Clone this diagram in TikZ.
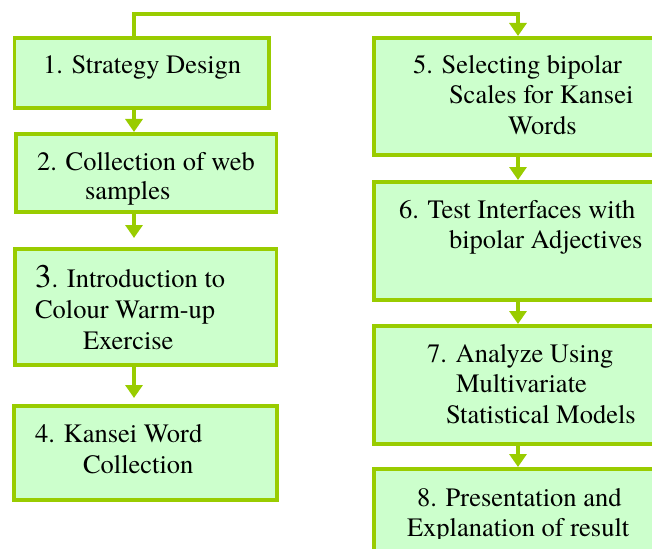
\documentclass[tikz,border=0pt]{standalone}
\usepackage{fontspec}
\setmainfont{texgyretermes}[Extension=.otf, UprightFont=*-regular, BoldFont=*-bold]
\usetikzlibrary{arrows.meta,calc}

\definecolor{stepedge}{RGB}{153,204,0}
\definecolor{stepfill}{RGB}{204,255,204}

\tikzset{
  stepbox/.style={draw=stepedge, fill=stepfill, line width=3.8pt,
    rectangle, inner sep=0pt, outer sep=0pt},
  flow/.style={draw=stepedge, line width=4.5pt,
    -{Triangle[width=17pt,length=13pt]}},
  txt/.style={anchor=base west, inner sep=0pt, outer sep=0pt,
    font=\fontsize{26.5}{31}\selectfont}
}

\begin{document}
\begin{tikzpicture}[x=1pt,y=-1pt]
  \useasboundingbox (0,0) rectangle (652,548);
  \clip (0,0) rectangle (652,548);

  % x positions of the two columns of arrows
  \coordinate (lx) at (134,0);
  \coordinate (rx) at (518,0);

  % left column
  \node[stepbox, minimum width=254.5pt, minimum height=70pt]  (b1) at (141.75,73) {};
  \node[stepbox, minimum width=260.5pt, minimum height=78pt]  (b2) at (146.25,173) {};
  \node[stepbox, minimum width=261.5pt, minimum height=116pt] (b3) at (145.75,307) {};
  \node[stepbox, minimum width=263pt,   minimum height=94pt]  (b4) at (145.5,453) {};

  % right column (runs past the right edge)
  \node[stepbox, minimum width=306pt, minimum height=117pt] (b5) at (527,96.5) {};
  \node[stepbox, minimum width=306pt, minimum height=118pt] (b6) at (527,241) {};
  \node[stepbox, minimum width=306pt, minimum height=118pt] (b7) at (527,385) {};
  \node[stepbox, minimum width=306pt, minimum height=131pt] (b8) at (527,534.5) {};

  % connectors
  \draw[flow] (b1.south -| lx) -- ($(b2.north -| lx)+(0,-2)$);
  \draw[flow] (b2.south -| lx) -- ($(b3.north -| lx)+(0,-11)$);
  \draw[flow] (b3.south -| lx) -- ($(b4.north -| lx)+(0,-8)$);
  \draw[flow] (b1.north -| lx) -- ++(0,-24) -| ($(b5.north -| rx)+(0,-2)$);
  \draw[flow] (b5.south -| rx) -- ($(b6.north -| rx)+(0,-2)$);
  \draw[flow] (b6.south -| rx) -- ($(b7.north -| rx)+(0,-2)$);
  \draw[flow] (b7.south -| rx) -- ($(b8.north -| rx)+(0,-2)$);

  % box texts
  \node[txt] (t1a) at (43,74)  {1. Strategy Design};

  \node[txt] (t2a) at (37,170) {2. Collection of web};
  \node[txt] (t2b) at (85,199) {samples};

  \node[txt] (t3a) at (35,287) {{\fontsize{33}{31}\selectfont 3}. Introduction to};
  \node[txt] (t3b) at (35,318) {Colour Warm-up};
  \node[txt] (t3c) at (83,349) {Exercise};

  \node[txt] (t4a) at (35,442) {4. Kansei Word};
  \node[txt] (t4b) at (83,473) {Collection};

  \node[txt] (t5a) at (413,74)  {5. Selecting bipolar};
  \node[txt] (t5b) at (449,104) {Scales for Kansei};
  \node[txt] (t5c) at (508,135) {Words};

  \node[txt] (t6a) at (399,218) {6. Test Interfaces with};
  \node[txt] (t6b) at (449,248) {bipolar Adjectives};

  \node[txt] (t7a) at (427,362) {7. Analyze Using};
  \node[txt] (t7b) at (456,392) {Multivariate};
  \node[txt] (t7c) at (446,423) {Statistical Models};

  \begin{scope}
    \clip (370,471) rectangle (652,538);
    \node[txt] (t8a) at (417,506) {8. Presentation and};
    \node[txt] (t8b) at (407,536) {Explanation of result};
  \end{scope}
\end{tikzpicture}
\end{document}
